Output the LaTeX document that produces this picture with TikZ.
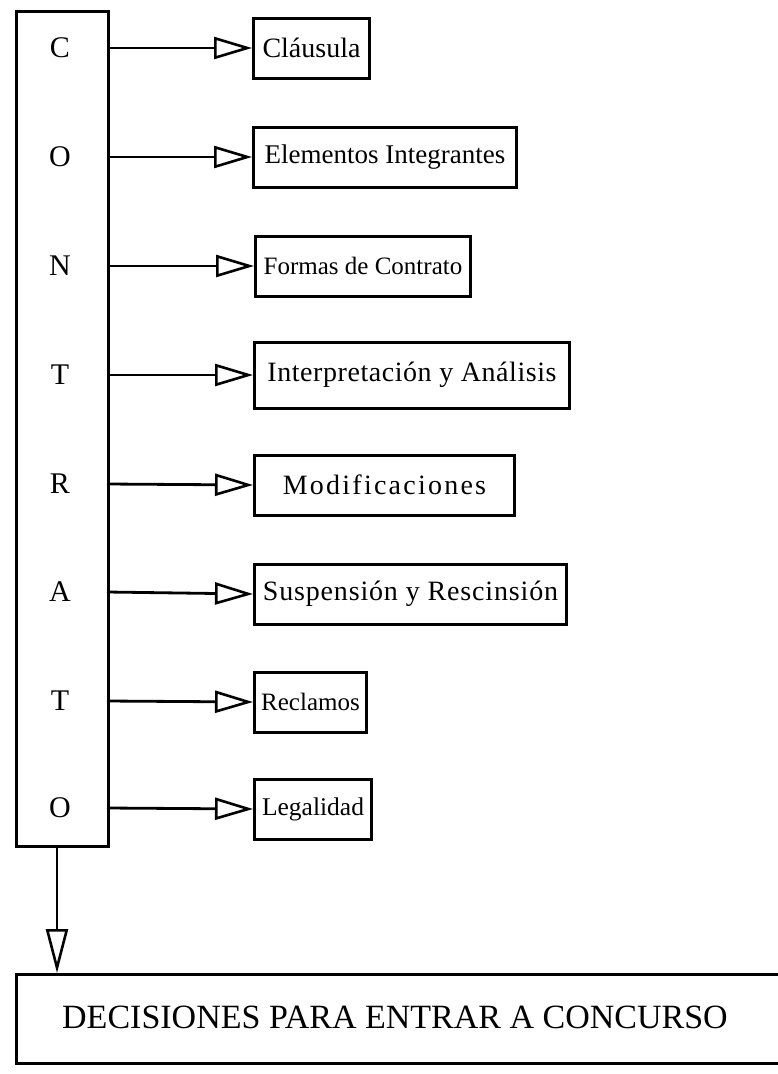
\documentclass[tikz,border=0pt]{standalone}
\usepackage{fontspec}
\setmainfont{Liberation Serif}
\usetikzlibrary{arrows.meta}
\begin{document}
\begin{tikzpicture}[x=1pt,y=-1pt,
  frame/.style={draw, line width=3.4pt},
  item/.style={draw, line width=3pt, anchor=west, inner xsep=0pt, minimum height=60pt, align=center, font=\fontsize{28}{32}\selectfont},
  letter/.style={font=\fontsize{30}{34}\selectfont},
  link/.style={line width=2.8pt, -{Triangle[open, length=38pt, width=22pt, line width=2.6pt]}}]
\useasboundingbox (0,0) rectangle (777,1074);
\node[frame, minimum width=92pt, minimum height=835pt, anchor=north west, inner sep=0pt] (col) at (15,10) {};
\foreach \l/\y/\n in {C/48/1, O/157/2, N/266/3, T/375/4, R/484/5, A/592/6, T/701/7, O/808/8}{
  \node[letter] (L\n) at (60,\y) {\l};
  \coordinate (S\n) at (107,\y);
}
\node[item, minimum width=116pt] (b1) at (252,48) {Cláusula};
\node[item, minimum width=263pt, font=\fontsize{27}{32}\selectfont] (b2) at (252,157) {Elementos Integrantes};
\node[item, minimum width=215pt, font=\fontsize{25}{32}\selectfont] (b3) at (254,266) {Formas de Contrato};
\node[item, minimum width=315pt, minimum height=66pt] (b4) at (253,375) {\addfontfeature{LetterSpace=2}Interpretación y Análisis};
\node[item, minimum width=260pt] (b5) at (253,485) {\addfontfeature{LetterSpace=8}Modificaciones};
\node[item, minimum width=312pt] (b6) at (253,594) {\addfontfeature{LetterSpace=3}Suspensión y Rescinsión};
\node[item, minimum width=112pt, font=\fontsize{25}{32}\selectfont] (b7) at (253,702) {Reclamos};
\node[item, minimum width=117pt, font=\fontsize{25.5}{32}\selectfont] (b8) at (253,809) {Legalidad};
\foreach \n in {1,...,8}{ \draw[link] (S\n) -- (b\n.west); }
\node[frame, anchor=north west, minimum width=775pt, minimum height=89pt, inner sep=0pt] (dec) at (15,973) {};
\node[font=\fontsize{34}{38}\selectfont] (dectext) at (395,1017) {DECISIONES PARA ENTRAR A CONCURSO};
\coordinate (down) at (57,845);
\draw[link, -{Triangle[open, length=44pt, width=22pt, line width=2.6pt]}] (down) -- (dec.north -| down);
\end{tikzpicture}
\end{document}
